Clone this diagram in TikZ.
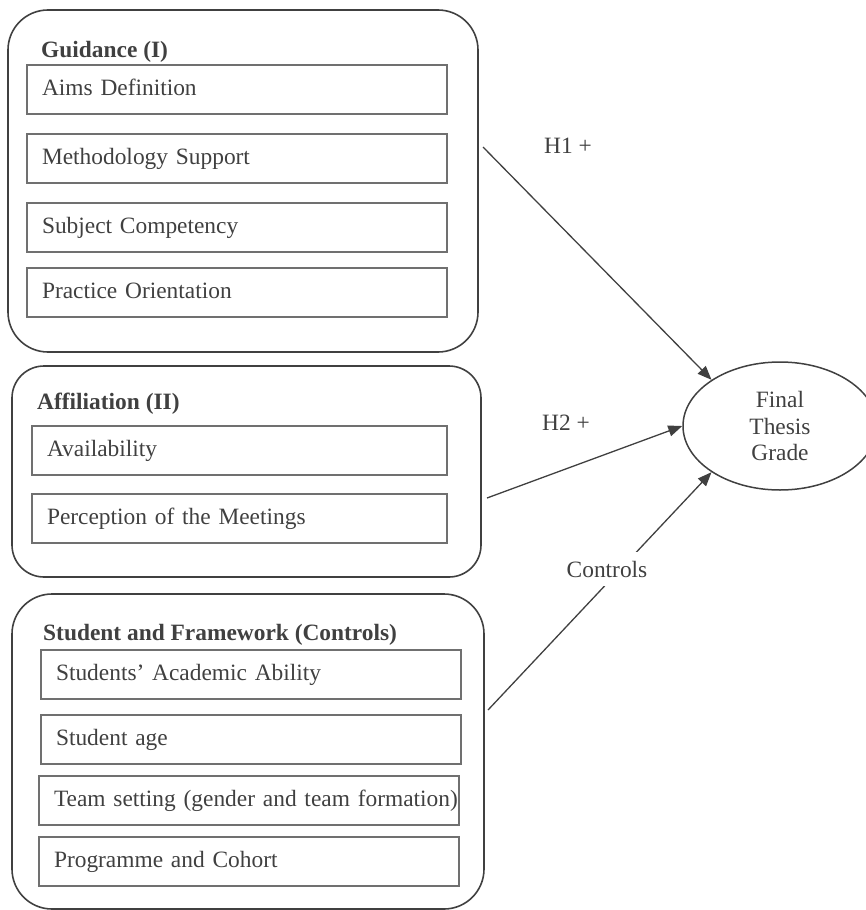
\documentclass[tikz,border=0pt]{standalone}
\usepackage{fontspec}
\setmainfont{Liberation Serif}
\usetikzlibrary{shapes.geometric,arrows.meta}
\definecolor{linea}{HTML}{404040}
\definecolor{bordo}{HTML}{707070}

\newcommand{\corpo}{\fontsize{23.4}{26.5}\selectfont}

\tikzset{
    gruppo/.style={draw=linea, line width=1.6pt, rounded corners=40pt, anchor=north west, inner sep=0pt, outer sep=0pt},
    voce/.style={draw=bordo, line width=1.2pt, anchor=north west, minimum width=420pt, minimum height=49pt,
        text width=390pt, inner xsep=15pt, inner ysep=0pt, outer sep=0pt, text height=17pt, text depth=6pt, align=left},
    titolo/.style={anchor=base west, font=\corpo\bfseries, inner sep=0pt},
    etichetta/.style={anchor=base, inner sep=0pt},
    freccia/.style={draw=linea, line width=1.3pt, -{Triangle[length=14pt,width=11pt]}},
}

\begin{document}
\begin{tikzpicture}[x=1pt, y=-1pt, font=\corpo, color=linea, text=linea]
    \useasboundingbox (0,0) rectangle (866,910);

    % Riquadri dei tre gruppi
    \node[gruppo, minimum width=470pt, minimum height=342pt] (guida) at (8,10) {};
    \node[gruppo, minimum width=469pt, minimum height=211pt, rounded corners=32pt] (affil) at (12,366) {};
    \node[gruppo, minimum width=472pt, minimum height=315pt] (stud) at (12,594) {};

    % Titoli
    \node[titolo] (tguida) at (41,57) {Guidance (I)};
    \node[titolo] (taffil) at (37,409) {Affiliation (II)};
    \node[titolo] (tstud) at (43,640) {Student and Framework (Controls)};

    % Voci di ogni gruppo
    \foreach \y/\testo [count=\i] in {65/Aims Definition, 134/Methodology Support, 203/Subject Competency, 268/Practice Orientation} {
        \node[voce] (g\i) at (27,\y) {\mbox{\testo}};
    }
    \foreach \y/\testo [count=\i] in {426/Availability, 494/Perception of the Meetings} {
        \node[voce, minimum width=415pt, text width=385pt] (a\i) at (32,\y) {\mbox{\testo}};
    }
    \foreach \x/\y/\testo [count=\i] in {41/650/Students' Academic Ability, 41/715/Student age, 39/776/Team setting (gender and team formation), 39/837/Programme and Cohort} {
        \node[voce] (s\i) at (\x,\y) {\mbox{\testo}};
    }

    % Variabile dipendente
    \node[ellipse, draw=linea, line width=1.5pt, minimum width=194pt, minimum height=128pt, inner sep=0pt, align=center] (voto) at (780,426) {Final\\Thesis\\Grade};

    % Frecce delle ipotesi
    \coordinate (p1) at (483,147);
    \coordinate (p2) at (487,498);
    \coordinate (p3) at (488,710);
    \draw[freccia] (p1) -- (voto.146);
    \draw[freccia] (p2) -- (voto.180);
    \draw[freccia] (p3) -- (voto.214);

    \node[etichetta] (h1) at (568,153) {H1 +};
    \node[etichetta] (h2) at (566,430) {H2 +};
    \node[etichetta, fill=white, inner sep=9pt] (ctrl) at (607,577) {Controls};
\end{tikzpicture}
\end{document}
